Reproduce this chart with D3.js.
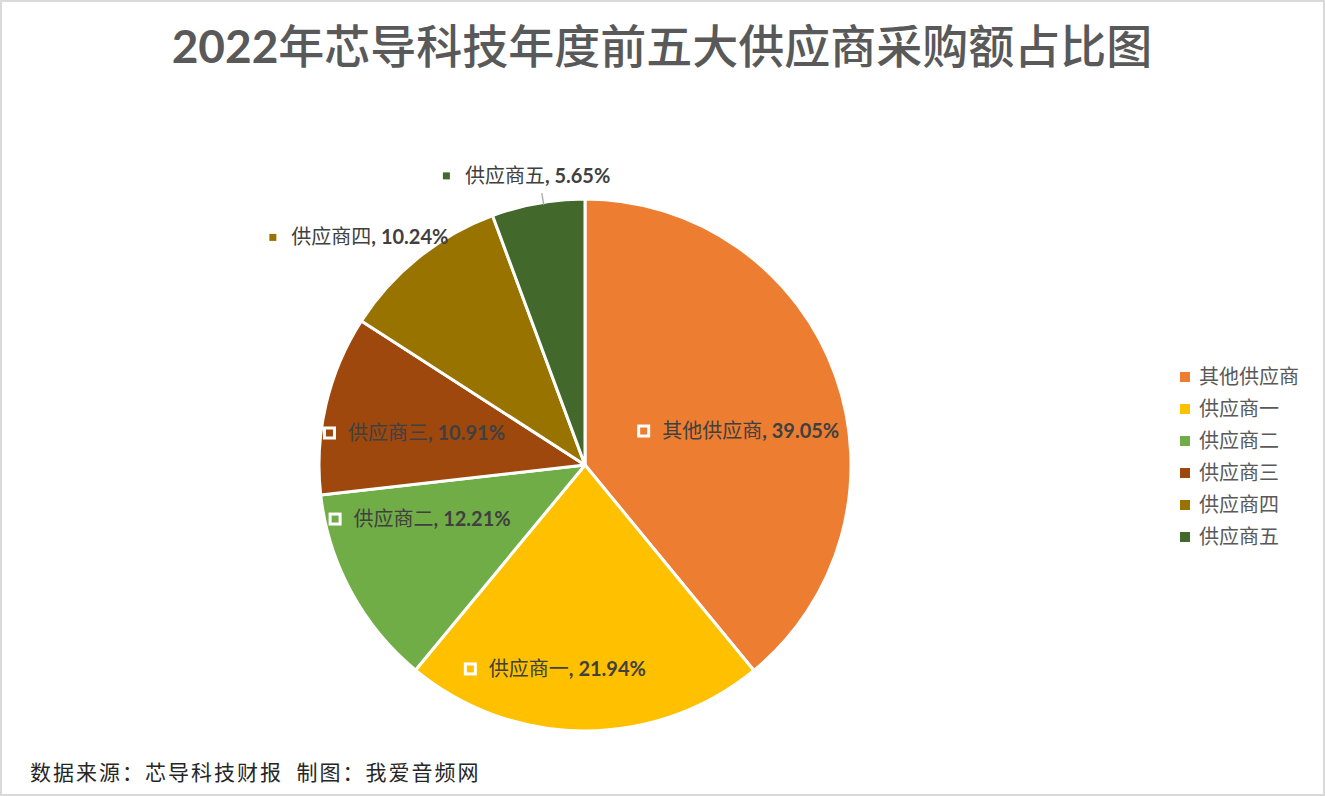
<!DOCTYPE html>
<html>
<head>
<meta charset="utf-8">
<script src="https://cdn.jsdelivr.net/npm/d3@7"></script>
<style>
body { margin: 0; background: #fff; }
svg { display: block; }
</style>
</head>
<body>
<div id="vis"></div>
<script>
var names = ['其他供应商', '供应商一', '供应商二', '供应商三', '供应商四', '供应商五'];
var shares = [39.05, 21.94, 12.21, 10.91, 10.24, 5.65];
var colors = ['#ED7D31', '#FFC000', '#70AD47', '#9E480E', '#997300', '#43682B'];

var width = 1325, height = 796;
var cx = 585, cy = 465, radius = 266;
var cjk = '"Noto Sans CJK SC", sans-serif';
var latin = 'Lato, "Noto Sans CJK SC", sans-serif';

// where Excel put each data label: [radius factor, angle in degrees from 12 o'clock]
var labelPlace = [[0.59, 77.5], [0.775, 188.4], [0.654, 251.9], [0.654, 280.6], [1.21, 315], [1.11, 348.3]];

var svg = d3.select('#vis')
    .append('svg')
        .attr('width', width)
        .attr('height', height);

svg.append('rect')
    .attr('x', 1).attr('y', 1)
    .attr('width', width - 2).attr('height', height - 2)
    .attr('fill', '#fff')
    .attr('stroke', '#D9D9D9')
    .attr('stroke-width', 2);

// title
var title = svg.append('text')
    .attr('x', 662)
    .attr('y', 63)
    .attr('text-anchor', 'middle')
    .attr('fill', '#595959')
    .style('font-size', '46px');
title.append('tspan').style('font-family', latin).style('font-weight', 700).style('font-size', '46px').text('2022');
title.append('tspan').style('font-family', cjk).style('font-weight', 500).text('年芯导科技年度前五大供应商采购额占比图');

// pie
var pie = d3.pie().sort(null).value(function(d){ return d; });
var arc = d3.arc().innerRadius(0).outerRadius(radius);
var arcs = pie(shares);

var g = svg.append('g').attr('transform', 'translate(' + cx + ',' + cy + ')');

g.selectAll('.slice')
    .data(arcs)
    .enter()
    .append('path')
    .attr('class', 'slice')
    .attr('d', arc)
    .attr('fill', function(d, i){ return colors[i]; })
    .attr('stroke', '#fff')
    .attr('stroke-width', 3)
    .attr('stroke-linejoin', 'round');

// leader line for the small slice
var last = arcs[arcs.length - 1];
var la = (last.startAngle + last.endAngle) / 2 + 0.02;
g.append('line')
    .attr('x1', Math.sin(la) * radius * 0.99)
    .attr('y1', -Math.cos(la) * radius * 0.99)
    .attr('x2', Math.sin(la) * radius * 1.035)
    .attr('y2', -Math.cos(la) * radius * 1.035)
    .attr('stroke', '#A6A6A6')
    .attr('stroke-width', 1.3);

// data labels
arcs.forEach(function(d, i) {
    var p = labelPlace[i];
    var a = p[1] * Math.PI / 180;
    var px = Math.sin(a) * radius * p[0];
    var py = -Math.cos(a) * radius * p[0];

    var lg = g.append('g');
    lg.append('rect')
        .attr('x', 0).attr('y', -6.5)
        .attr('width', 13).attr('height', 13)
        .attr('fill', '#fff');
    lg.append('rect')
        .attr('x', 3).attr('y', -3.5)
        .attr('width', 7).attr('height', 7)
        .attr('fill', colors[i]);
    var t = lg.append('text')
        .attr('x', 25)
        .attr('y', 7)
        .attr('fill', '#404040')
        .style('font-size', '20px');
    t.append('tspan').style('font-family', cjk).style('font-weight', 400).text(names[i]);
    t.append('tspan').style('font-family', latin).style('font-weight', 700).style('font-size', '20px').text(', ' + shares[i].toFixed(2) + '%');

    var w = 25 + t.node().getComputedTextLength();
    lg.attr('transform', 'translate(' + (px - w / 2) + ',' + py + ')');
});

// legend
var legend = svg.append('g').attr('transform', 'translate(1180,377)');
names.forEach(function(n, i) {
    var row = legend.append('g').attr('transform', 'translate(0,' + (i * 32) + ')');
    row.append('rect')
        .attr('x', 0).attr('y', -5)
        .attr('width', 10).attr('height', 10)
        .attr('fill', colors[i]);
    row.append('text')
        .attr('x', 19)
        .attr('y', 7)
        .attr('fill', '#595959')
        .style('font-family', cjk)
        .style('font-size', '20px')
        .text(n);
});

// footer
svg.append('text')
    .attr('x', 30)
    .attr('y', 780)
    .attr('fill', '#262626')
    .style('font-family', cjk)
    .style('font-size', '21px')
    .style('letter-spacing', '2px')
    .style('white-space', 'pre')
    .text('数据来源：芯导科技财报  制图：我爱音频网');
</script>
</body>
</html>
